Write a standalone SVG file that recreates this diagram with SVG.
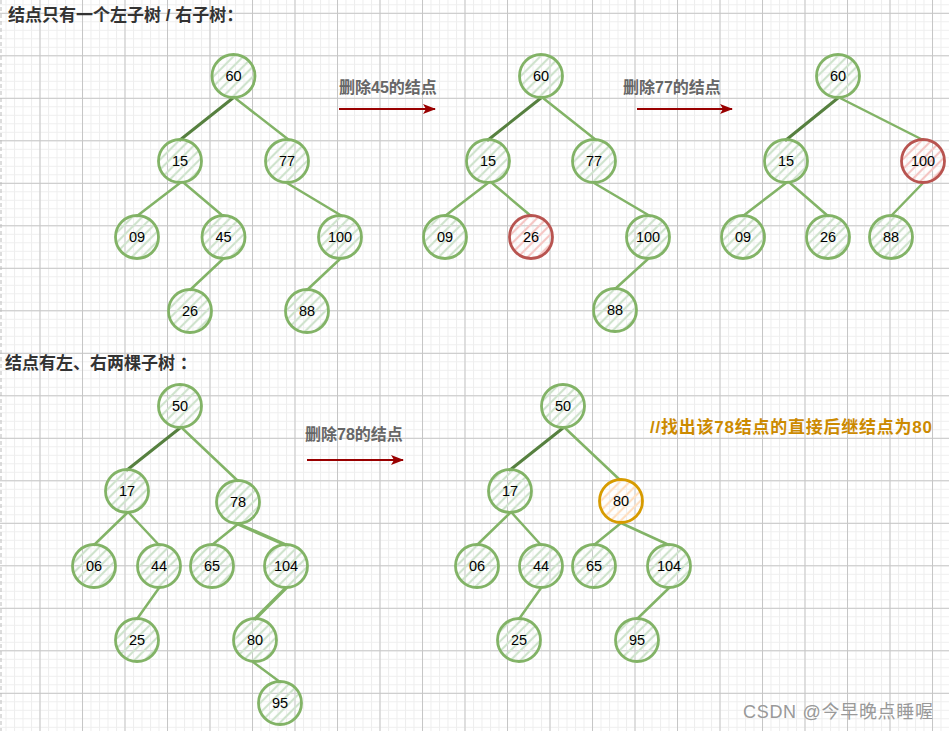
<svg xmlns="http://www.w3.org/2000/svg" width="949" height="731" viewBox="0 0 949 731">
<style>
.title{font-family:"Liberation Sans","Noto Sans CJK SC",sans-serif;font-weight:bold;font-size:17px;fill:#333}
.lab{font-family:"Liberation Sans","Noto Sans CJK SC",sans-serif;font-weight:bold;font-size:16px;fill:#666}
.note{font-family:"Liberation Sans","Noto Sans CJK SC",sans-serif;font-weight:bold;font-size:17px;fill:#cc8a00}
.wm{font-family:"Liberation Sans","Noto Sans CJK SC",sans-serif;font-size:18px;fill:#999}
.nt{font-family:"Liberation Sans",Arial,sans-serif;font-size:14.5px;fill:#000;text-anchor:middle;dominant-baseline:central}
.g circle{stroke:#82b366;stroke-width:2.8;fill:url(#hg)}
.r circle{stroke:#b85450;stroke-width:2.8;fill:url(#hr)}
.o circle{stroke:#d79b00;stroke-width:2.8;fill:url(#ho)}
.e{stroke:#82b366;stroke-width:2.5;fill:none;stroke-linecap:round}
.d{stroke:#56803f;stroke-width:3;fill:none;stroke-linecap:round}
.t{stroke:#82b366;stroke-width:3.5;fill:none;stroke-linecap:round}
.arr{stroke:#990000;stroke-width:2;fill:none;marker-end:url(#ah)}
</style>
<defs>
<pattern id="minor" width="8.5" height="8.5" patternUnits="userSpaceOnUse" x="39.5" y="12.8"><path d="M0.5 0V8.5M0 0.5H8.5" stroke="#eeeeee" stroke-width="1"/></pattern>
<pattern id="major" width="42.5" height="42.5" patternUnits="userSpaceOnUse" x="39.5" y="12.8"><path d="M0.5 0V42.5M0 0.5H42.5" stroke="#c6c6c6" stroke-width="1"/></pattern>
<pattern id="hg" width="7" height="7" patternUnits="userSpaceOnUse" patternTransform="rotate(45)"><line x1="2" y1="0" x2="2" y2="7" stroke="#cfe3cd" stroke-width="2.2"/></pattern>
<pattern id="hr" width="7" height="7" patternUnits="userSpaceOnUse" patternTransform="rotate(45)"><line x1="2" y1="0" x2="2" y2="7" stroke="#f5c6c4" stroke-width="2.2"/></pattern>
<pattern id="ho" width="7" height="7" patternUnits="userSpaceOnUse" patternTransform="rotate(45)"><line x1="2" y1="0" x2="2" y2="7" stroke="#ffe0c2" stroke-width="2.2"/></pattern>
<marker id="ah" markerWidth="14" markerHeight="12" refX="12" refY="6" orient="auto" markerUnits="userSpaceOnUse"><path d="M0 1L13 6L0 11L3 6Z" fill="#990000"/></marker>
</defs>
<rect width="949" height="731" fill="#fff"/>
<rect width="949" height="731" fill="url(#minor)"/>
<rect width="949" height="731" fill="url(#major)"/>
<line x1="1" y1="0" x2="1" y2="731" stroke="#bbb" stroke-width="1" stroke-dasharray="4 3"/>

<text class="title" x="8" y="21">结点只有一个左子树 / 右子树：</text>
<text class="title" x="5" y="369">结点有左、右两棵子树 ：</text>
<text class="lab" x="339" y="93">删除45的结点</text>
<text class="lab" x="623" y="93">删除77的结点</text>
<text class="lab" x="305" y="440">删除78的结点</text>
<text class="note" x="650" y="433" textLength="282" lengthAdjust="spacing">//找出该78结点的直接后继结点为80</text>
<text class="wm" x="743" y="718" textLength="190" lengthAdjust="spacing">CSDN @今早晚点睡喔</text>

<g id="connectors">
<line class="arr" x1="339" y1="109" x2="435" y2="109"/>
<line class="arr" x1="637" y1="109" x2="732" y2="109"/>
<line class="arr" x1="307" y1="460" x2="403" y2="460"/>
<!-- tree 1 -->
<line class="d" x1="233" y1="98" x2="180" y2="140"/>
<line class="e" x1="235" y1="98" x2="289" y2="140"/>
<line class="e" x1="180" y1="183" x2="137" y2="216"/>
<line class="e" x1="184" y1="183" x2="223" y2="216"/>
<line class="e" x1="223" y1="259" x2="190" y2="290"/>
<line class="e" x1="287" y1="183" x2="342" y2="216"/>
<line class="e" x1="340" y1="259" x2="307" y2="290"/>
<!-- tree 2 -->
<line class="d" x1="541" y1="98" x2="488" y2="140"/>
<line class="e" x1="543" y1="98" x2="596" y2="140"/>
<line class="e" x1="488" y1="183" x2="445" y2="216"/>
<line class="e" x1="492" y1="183" x2="531" y2="216"/>
<line class="e" x1="594" y1="183" x2="650" y2="216"/>
<line class="e" x1="648" y1="259" x2="615" y2="289"/>
<!-- tree 3 -->
<line class="d" x1="838" y1="98" x2="786" y2="140"/>
<line class="e" x1="840" y1="98" x2="923" y2="140"/>
<line class="e" x1="786" y1="183" x2="743" y2="216"/>
<line class="e" x1="790" y1="183" x2="828" y2="216"/>
<line class="e" x1="923" y1="183" x2="891" y2="216"/>
<!-- tree 4 -->
<line class="d" x1="180" y1="428" x2="127" y2="470"/>
<line class="e" x1="182" y1="428" x2="238" y2="481"/>
<line class="e" x1="127" y1="513" x2="94" y2="545"/>
<line class="e" x1="129" y1="513" x2="159" y2="545"/>
<line class="e" x1="159" y1="588" x2="137" y2="619"/>
<line class="e" x1="238" y1="524" x2="212" y2="545"/>
<line class="t" x1="238" y1="524" x2="286" y2="545"/>
<line class="t" x1="286" y1="588" x2="255" y2="619"/>
<line class="e" x1="253" y1="662" x2="280" y2="682"/>
<!-- tree 5 -->
<line class="d" x1="563" y1="428" x2="510" y2="470"/>
<line class="e" x1="565" y1="428" x2="620" y2="480"/>
<line class="e" x1="510" y1="513" x2="477" y2="545"/>
<line class="e" x1="512" y1="513" x2="541" y2="545"/>
<line class="e" x1="541" y1="588" x2="519" y2="619"/>
<line class="e" x1="621" y1="523" x2="594" y2="545"/>
<line class="e" x1="621" y1="523" x2="669" y2="545"/>
<line class="e" x1="669" y1="588" x2="637" y2="619"/>
</g>

<!-- tree 1 nodes -->
<g id="t1-60" class="g"><circle cx="233.5" cy="76" r="21.5"/><text class="nt" x="233.5" y="76">60</text></g>
<g id="t1-15" class="g"><circle cx="180" cy="161" r="21.5"/><text class="nt" x="180" y="161">15</text></g>
<g id="t1-77" class="g"><circle cx="287" cy="161" r="21.5"/><text class="nt" x="287" y="161">77</text></g>
<g id="t1-09" class="g"><circle cx="137" cy="237" r="21.5"/><text class="nt" x="137" y="237">09</text></g>
<g id="t1-45" class="g"><circle cx="223.5" cy="237" r="21.5"/><text class="nt" x="223.5" y="237">45</text></g>
<g id="t1-100" class="g"><circle cx="340" cy="237" r="21.5"/><text class="nt" x="340" y="237">100</text></g>
<g id="t1-26" class="g"><circle cx="190" cy="311" r="21.5"/><text class="nt" x="190" y="311">26</text></g>
<g id="t1-88" class="g"><circle cx="307" cy="311" r="21.5"/><text class="nt" x="307" y="311">88</text></g>
<!-- tree 2 nodes -->
<g id="t2-60" class="g"><circle cx="541" cy="76" r="21.5"/><text class="nt" x="541" y="76">60</text></g>
<g id="t2-15" class="g"><circle cx="488" cy="161" r="21.5"/><text class="nt" x="488" y="161">15</text></g>
<g id="t2-77" class="g"><circle cx="594" cy="161" r="21.5"/><text class="nt" x="594" y="161">77</text></g>
<g id="t2-09" class="g"><circle cx="445" cy="237" r="21.5"/><text class="nt" x="445" y="237">09</text></g>
<g id="t2-26" class="r"><circle cx="531" cy="237" r="21.5"/><text class="nt" x="531" y="237">26</text></g>
<g id="t2-100" class="g"><circle cx="648" cy="237" r="21.5"/><text class="nt" x="648" y="237">100</text></g>
<g id="t2-88" class="g"><circle cx="615" cy="310" r="21.5"/><text class="nt" x="615" y="310">88</text></g>
<!-- tree 3 nodes -->
<g id="t3-60" class="g"><circle cx="838" cy="76" r="21.5"/><text class="nt" x="838" y="76">60</text></g>
<g id="t3-15" class="g"><circle cx="786" cy="161" r="21.5"/><text class="nt" x="786" y="161">15</text></g>
<g id="t3-100" class="r"><circle cx="923" cy="161" r="21.5"/><text class="nt" x="923" y="161">100</text></g>
<g id="t3-09" class="g"><circle cx="743" cy="237" r="21.5"/><text class="nt" x="743" y="237">09</text></g>
<g id="t3-26" class="g"><circle cx="828" cy="237" r="21.5"/><text class="nt" x="828" y="237">26</text></g>
<g id="t3-88" class="g"><circle cx="891" cy="237" r="21.5"/><text class="nt" x="891" y="237">88</text></g>
<!-- tree 4 nodes -->
<g id="t4-50" class="g"><circle cx="180" cy="406" r="21.5"/><text class="nt" x="180" y="406">50</text></g>
<g id="t4-17" class="g"><circle cx="127" cy="491" r="21.5"/><text class="nt" x="127" y="491">17</text></g>
<g id="t4-78" class="g"><circle cx="238" cy="502" r="21.5"/><text class="nt" x="238" y="502">78</text></g>
<g id="t4-06" class="g"><circle cx="94" cy="566" r="21.5"/><text class="nt" x="94" y="566">06</text></g>
<g id="t4-44" class="g"><circle cx="159" cy="566" r="21.5"/><text class="nt" x="159" y="566">44</text></g>
<g id="t4-65" class="g"><circle cx="212" cy="566" r="21.5"/><text class="nt" x="212" y="566">65</text></g>
<g id="t4-104" class="g"><circle cx="286" cy="566" r="21.5"/><text class="nt" x="286" y="566">104</text></g>
<g id="t4-25" class="g"><circle cx="137" cy="640" r="21.5"/><text class="nt" x="137" y="640">25</text></g>
<g id="t4-80" class="g"><circle cx="255" cy="640" r="21.5"/><text class="nt" x="255" y="640">80</text></g>
<g id="t4-95" class="g"><circle cx="280" cy="703" r="21.5"/><text class="nt" x="280" y="703">95</text></g>
<!-- tree 5 nodes -->
<g id="t5-50" class="g"><circle cx="563" cy="406" r="21.5"/><text class="nt" x="563" y="406">50</text></g>
<g id="t5-17" class="g"><circle cx="510" cy="491" r="21.5"/><text class="nt" x="510" y="491">17</text></g>
<g id="t5-80" class="o"><circle cx="621" cy="501" r="21.5"/><text class="nt" x="621" y="501">80</text></g>
<g id="t5-06" class="g"><circle cx="477" cy="566" r="21.5"/><text class="nt" x="477" y="566">06</text></g>
<g id="t5-44" class="g"><circle cx="541" cy="566" r="21.5"/><text class="nt" x="541" y="566">44</text></g>
<g id="t5-65" class="g"><circle cx="594" cy="566" r="21.5"/><text class="nt" x="594" y="566">65</text></g>
<g id="t5-104" class="g"><circle cx="669" cy="566" r="21.5"/><text class="nt" x="669" y="566">104</text></g>
<g id="t5-25" class="g"><circle cx="519" cy="640" r="21.5"/><text class="nt" x="519" y="640">25</text></g>
<g id="t5-95" class="g"><circle cx="637" cy="640" r="21.5"/><text class="nt" x="637" y="640">95</text></g>
</svg>
